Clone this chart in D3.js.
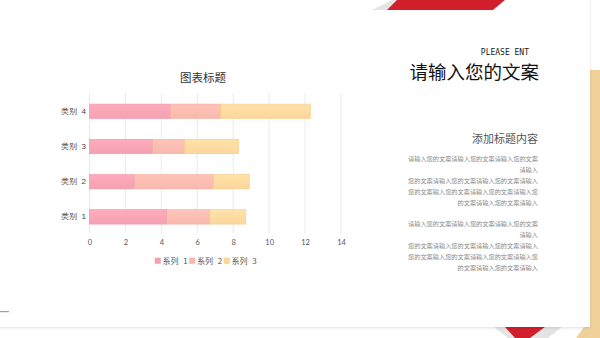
<!DOCTYPE html>
<html>
<head>
<meta charset="utf-8">
<script src="https://cdn.jsdelivr.net/npm/d3@7"></script>
<style>
  body { margin: 0; background: #fff; }
  svg { display: block; font-family: "Noto Sans CJK SC", "Noto Sans", sans-serif; }
</style>
</head>
<body>
<div id="slide"></div>
<script>
var W = 600, H = 338

// chart data
var categories = ["类别 1", "类别 2", "类别 3", "类别 4"]
var seriesNames = ["系列 1", "系列 2", "系列 3"]
var series1 = [4.3, 2.5, 3.5, 4.5]
var series2 = [2.4, 4.4, 1.8, 2.8]
var series3 = [2, 2, 3, 5]
var xTicks = [0, 2, 4, 6, 8, 10, 12, 14]

// right side text
var heading = "添加标题内容"
var para1 = ["请输入您的文案请输入您的文案请输入您的文案", "请输入", "您的文案请输入您的文案请输入您的文案请输入", "您的文案输入您的文案请输入您的文案请输入您", "的文案请输入您的文案请输入"]
var para2 = ["请输入您的文案请输入您的文案请输入您的文案", "请输入", "您的文案请输入您的文案请输入您的文案请输入", "您的文案输入您的文案请输入您的文案请输入您", "的文案请输入您的文案请输入"]

var colors = ["#f3a2b2", "#f7b9ad", "#fcd69d"]
var strokes = ["#eb97a8", "#f2ad9f", "#f6cb8c"]

var svg = d3.select("#slide").append("svg")
    .attr("width", W).attr("height", H)

var defs = svg.append("defs")
colors.forEach(function(c, i) {
    var g = defs.append("linearGradient").attr("id", "g" + i)
        .attr("x1", 0).attr("y1", 0).attr("x2", 0).attr("y2", 1)
    g.append("stop").attr("offset", "0%").attr("stop-color", d3.color(c).brighter(0.15))
    g.append("stop").attr("offset", "100%").attr("stop-color", c)
})
var sh = defs.append("filter").attr("id", "shadow").attr("x", "-10%").attr("y", "-10%").attr("width", "120%").attr("height", "130%")
sh.append("feDropShadow").attr("dx", 0).attr("dy", 1).attr("stdDeviation", 1.5).attr("flood-color", "#000").attr("flood-opacity", 0.12)

// decoration behind the white panel
svg.append("polygon").attr("points", "589,70 600,70 600,338 576,338 589,320").attr("fill", "#f1d19a")
svg.append("polygon").attr("points", "494,327 562,327 548,338 508,338").attr("fill", "#d9d9d9").attr("opacity", 0.7)
svg.append("polygon").attr("points", "505,327 545,327 530,338 515,338").attr("fill", "#d11f2b")

// white panel
svg.append("rect").attr("x", -10).attr("y", -10).attr("width", 600).attr("height", 337)
    .attr("fill", "#fff").attr("filter", "url(#shadow)")

// top red band
svg.append("polygon").attr("points", "372,10 392,0 400,0 392,10").attr("fill", "#e4e4e4")
svg.append("polygon").attr("points", "397,0 505,0 493,10 387,10").attr("fill", "#d11f2b")

// small line bottom left
svg.append("rect").attr("x", 0).attr("y", 311).attr("width", 9).attr("height", 1.2).attr("fill", "#d58a8a")

// ---- bar chart ----
var x = d3.scaleLinear().domain([0, 14]).range([89.5, 341])
var y = d3.scaleBand().domain(categories.slice().reverse()).range([93.7, 234.5])
    .paddingInner(0.59).paddingOuter(0.295)

var chart = svg.append("g")

chart.selectAll(".grid").data(xTicks).enter().append("line")
    .attr("class", "grid")
    .attr("x1", d => x(d)).attr("x2", d => x(d))
    .attr("y1", 93).attr("y2", 233)
    .attr("stroke", "#e4e4e4").attr("stroke-width", 0.8)

var stacked = d3.stack().keys([0, 1, 2])(categories.map(function(c, i) {
    return { cat: c, 0: series1[i], 1: series2[i], 2: series3[i] }
}))

stacked.forEach(function(layer, si) {
    chart.selectAll(".bar" + si).data(layer).enter().append("rect")
        .attr("class", "bar" + si)
        .attr("x", d => x(d[0]))
        .attr("y", d => y(d.data.cat))
        .attr("width", d => x(d[1]) - x(d[0]))
        .attr("height", y.bandwidth())
        .attr("fill", "url(#g" + si + ")")
        .attr("stroke", strokes[si]).attr("stroke-width", 0.6)
})

var xAxis = chart.append("g")
    .attr("transform", "translate(0,237)")
    .call(d3.axisBottom(x).tickValues(xTicks).tickSize(0).tickPadding(3))
xAxis.select(".domain").remove()
xAxis.selectAll("text").attr("font-size", 7.5).attr("fill", "#555")
    .attr("font-family", "Lato, sans-serif")

var yAxis = chart.append("g")
    .attr("transform", "translate(86,0)")
    .call(d3.axisLeft(y).tickSize(0).tickPadding(0))
yAxis.select(".domain").remove()
yAxis.selectAll("text").attr("font-size", 8).attr("fill", "#444").attr("word-spacing", 2)

chart.append("text").attr("x", 203).attr("y", 81.5)
    .attr("text-anchor", "middle").attr("font-size", 11.5).attr("fill", "#333")
    .text("图表标题")

// legend
var legendX = [155, 189.5, 224]
var legend = chart.selectAll(".legend").data(seriesNames).enter().append("g")
    .attr("transform", (d, i) => "translate(" + legendX[i] + ",258)")
legend.append("rect").attr("width", 5.5).attr("height", 5.5)
    .attr("fill", (d, i) => colors[i]).attr("stroke", (d, i) => strokes[i]).attr("stroke-width", 0.5)
legend.append("text").attr("x", 7.5).attr("y", 5.8)
    .attr("font-size", 8).attr("fill", "#555").attr("word-spacing", 3).text(d => d)

// ---- right side ----
svg.append("text").attr("x", 529).attr("y", 55).attr("text-anchor", "end")
    .attr("font-family", "DejaVu Sans Mono, monospace").attr("font-size", 8).attr("fill", "#222")
    .text("PLEASE ENT")
svg.append("text").attr("x", 539).attr("y", 78.5).attr("text-anchor", "end")
    .attr("font-size", 18.5).attr("fill", "#111")
    .text("请输入您的文案")

svg.append("text").attr("x", 538).attr("y", 142.5).attr("text-anchor", "end")
    .attr("font-size", 11).attr("fill", "#555").text(heading)

function para(lines, y0) {
    svg.append("g").selectAll("text").data(lines).enter().append("text")
        .attr("x", 538).attr("y", (d, i) => y0 + i * 11.1)
        .attr("text-anchor", "end").attr("font-size", 6.2).attr("fill", "#888")
        .text(d => d)
}
para(para1, 160.5)
para(para2, 225.5)
</script>
</body>
</html>
